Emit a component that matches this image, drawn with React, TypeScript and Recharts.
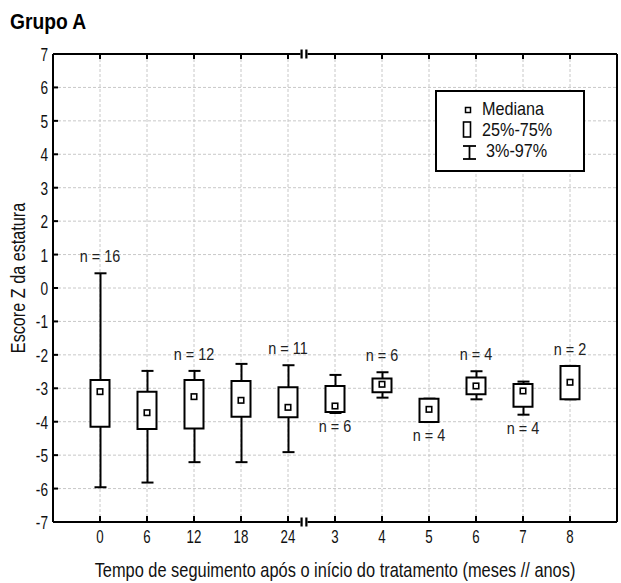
import React from 'react';
import {
  ComposedChart,
  Bar,
  Line,
  XAxis,
  YAxis,
  CartesianGrid,
  ReferenceDot,
  Label,
} from 'recharts';

const FONT = "'Liberation Sans', Arial, sans-serif";

// months (0-24) then years (3-8)
const categories = ['0', '6', '12', '18', '24', '3', '4', '5', '6', '7', '8'];
const whiskerLow = [-5.96, -5.82, -5.21, -5.21, -4.91, -3.74, -3.28, -4.01, -3.33, -3.79, -3.33];
const boxLow = [-4.15, -4.22, -4.2, -3.85, -3.87, -3.71, -3.12, -4.01, -3.18, -3.55, -3.33];
const medians = [-3.1, -3.73, -3.25, -3.36, -3.57, -3.53, -2.88, -3.63, -2.93, -3.08, -2.82];
const boxHigh = [-2.75, -3.1, -2.75, -2.78, -2.97, -2.93, -2.71, -3.31, -2.68, -2.87, -2.33];
const whiskerHigh = [0.44, -2.48, -2.48, -2.27, -2.31, -2.6, -2.52, -3.31, -2.49, -2.8, -2.33];
const nLabels = ['n = 16', '', 'n = 12', '', 'n = 11', 'n = 6', 'n = 6', 'n = 4', 'n = 4', 'n = 4', 'n = 2'];
const nPlacement = ['above', '', 'above', '', 'above', 'below', 'above', 'below', 'above', 'below', 'above'];
const yTicks = [-7, -6, -5, -4, -3, -2, -1, 0, 1, 2, 3, 4, 5, 6, 7];

const data = categories.map((label, i) => ({
  id: i,
  label,
  low: whiskerLow[i],
  q1: boxLow[i],
  median: medians[i],
  q3: boxHigh[i],
  high: whiskerHigh[i],
}));

const catPadding = { left: 23.5, right: 23.5 };

// condensed-looking text: regular font squeezed horizontally
const NText = ({ x, y, size, sx = 0.82, anchor = 'start', weight = 'normal', rotate = 0, fill = '#111', children }: any) => (
  <g transform={`translate(${x} ${y}) rotate(${rotate}) scale(${sx} 1)`}>
    <text x={0} y={0} textAnchor={anchor} fontSize={size} fontWeight={weight} fontFamily={FONT} fill={fill}>
      {children}
    </text>
  </g>
);

const BottomTick = ({ x, y, payload }: any) => (
  <g>
    <line x1={x} y1={y} x2={x} y2={y - 6} stroke="#000" strokeWidth={2} />
    <NText x={x} y={y + 21} size={19} sx={0.7} anchor="middle">
      {categories[payload.value]}
    </NText>
  </g>
);

const TopTick = ({ x, y }: any) => (
  <line x1={x} y1={y} x2={x} y2={y + 5} stroke="#000" strokeWidth={2} />
);

const LeftTick = ({ x, y, payload }: any) => (
  <g>
    <line x1={x} y1={y} x2={x + 5} y2={y} stroke="#000" strokeWidth={2} />
    <NText x={x - 5} y={y + 7} size={19} sx={0.72} anchor="end">
      {payload.value}
    </NText>
  </g>
);

const RightTick = ({ x, y }: any) => (
  <line x1={x} y1={y} x2={x - 5} y2={y} stroke="#000" strokeWidth={2} />
);

const Whisker = ({ x, y, width, height }: any) => {
  const cx = x + width / 2;
  return (
    <g>
      <line x1={cx} y1={y} x2={cx} y2={y + height} stroke="#000" strokeWidth={2} />
      <line x1={x} y1={y} x2={x + width} y2={y} stroke="#000" strokeWidth={2} />
      <line x1={x} y1={y + height} x2={x + width} y2={y + height} stroke="#000" strokeWidth={2} />
    </g>
  );
};

const MedianDot = ({ cx, cy, index }: any) => (
  <rect key={`m${index}`} x={cx - 2.75} y={cy - 2.75} width={5.5} height={5.5} fill="#fff" stroke="#000" strokeWidth={1.6} />
);

const NLabel = ({ x, y, index }: any) => {
  const text = nLabels[index];
  if (!text) return null;
  const dy = nPlacement[index] === 'below' ? 19 : -11;
  return (
    <NText x={x} y={y + dy} size={16} sx={0.9} anchor="middle" fill="#222">
      {text}
    </NText>
  );
};

const AxisBreak = ({ cx, cy }: any) => (
  <g>
    <rect x={cx - 3.5} y={cy - 2} width={7} height={4} fill="#fff" />
    <rect x={cx - 3.5} y={cy - 4.5} width={2.2} height={9} fill="#000" />
    <rect x={cx + 1.3} y={cy - 4.5} width={2.2} height={9} fill="#000" />
  </g>
);

const XTitle = ({ viewBox }: any) => (
  <NText x={viewBox.x + viewBox.width / 2} y={viewBox.y + 55} size={20} sx={0.82} anchor="middle">
    Tempo de seguimento após o início do tratamento (meses // anos)
  </NText>
);

const YTitle = ({ viewBox }: any) => (
  <NText x={viewBox.x + 25} y={viewBox.y + viewBox.height / 2 - 10} size={20} sx={0.81} anchor="middle" rotate={-90}>
    Escore Z da estatura
  </NText>
);

export default function App() {
  return (
    <div style={{ position: 'absolute', left: 0, top: 0, width: 621, height: 583, background: '#fff' }}>
      <ComposedChart
        width={621}
        height={583}
        data={data}
        margin={{ top: 50, right: 0, bottom: 0, left: 0 }}
        style={{ position: 'absolute', left: 0, top: 0 }}
      >
        <CartesianGrid xAxisId="a" yAxisId="l" stroke="#c8c8c8" strokeDasharray="3 2" />
        <XAxis
          xAxisId="a"
          dataKey="id"
          type="category"
          padding={catPadding}
          height={61}
          tickSize={0}
          tickMargin={0}
          tickLine={false}
          axisLine={{ stroke: '#000', strokeWidth: 2 }}
          tick={BottomTick}
          interval={0}
        >
          <Label content={XTitle} />
        </XAxis>
        <XAxis xAxisId="b" dataKey="id" type="category" padding={catPadding} hide />
        <XAxis
          xAxisId="top"
          orientation="top"
          dataKey="id"
          type="category"
          padding={catPadding}
          height={4}
          tickSize={0}
          tickMargin={0}
          tickLine={false}
          axisLine={{ stroke: '#000', strokeWidth: 2 }}
          tick={TopTick}
          interval={0}
        />
        <XAxis xAxisId="num" type="number" domain={[-1, 11]} allowDataOverflow hide />
        <YAxis
          yAxisId="l"
          domain={[-7, 7]}
          ticks={yTicks}
          width={53}
          tickSize={0}
          tickMargin={0}
          tickLine={false}
          axisLine={{ stroke: '#000', strokeWidth: 2 }}
          tick={LeftTick}
          interval={0}
        >
          <Label content={YTitle} />
        </YAxis>
        <YAxis
          yAxisId="r"
          orientation="right"
          domain={[-7, 7]}
          ticks={yTicks}
          width={4}
          tickSize={0}
          tickMargin={0}
          tickLine={false}
          axisLine={{ stroke: '#000', strokeWidth: 2 }}
          tick={RightTick}
          interval={0}
        />
        <Bar
          xAxisId="a"
          yAxisId="l"
          dataKey={(d: any) => [d.low, d.high]}
          barSize={12}
          shape={Whisker}
          isAnimationActive={false}
        />
        <Bar
          xAxisId="b"
          yAxisId="l"
          dataKey={(d: any) => [d.q1, d.q3]}
          barSize={19}
          fill="#fff"
          stroke="#000"
          strokeWidth={2}
          isAnimationActive={false}
        />
        <Line
          xAxisId="a"
          yAxisId="l"
          dataKey="median"
          stroke="none"
          dot={MedianDot}
          activeDot={false}
          isAnimationActive={false}
        />
        <Line
          xAxisId="a"
          yAxisId="l"
          dataKey={(d: any) => (nPlacement[d.id] === 'below' ? d.low : d.high)}
          stroke="none"
          dot={false}
          activeDot={false}
          label={NLabel}
          isAnimationActive={false}
        />
        <ReferenceDot xAxisId="num" yAxisId="l" x={4.45} y={7} ifOverflow="visible" shape={AxisBreak} />
        <ReferenceDot xAxisId="num" yAxisId="l" x={4.45} y={-7} ifOverflow="visible" shape={AxisBreak} />
      </ComposedChart>
      <svg width={621} height={583} style={{ position: 'absolute', left: 0, top: 0, pointerEvents: 'none' }}>
        <NText x={10} y={29} size={22} sx={0.875} weight="bold" fill="#000">
          Grupo A
        </NText>
        <g transform="translate(435 90)">
          <rect x={1} y={1} width={148} height={80} fill="#fff" stroke="#000" strokeWidth={2} />
          <rect x={30.5} y={17.5} width={5} height={5} fill="#fff" stroke="#000" strokeWidth={1.5} />
          <NText x={47} y={25} size={18} sx={0.9}>Mediana</NText>
          <rect x={28.5} y={32} width={7} height={15} fill="#fff" stroke="#000" strokeWidth={1.6} />
          <NText x={47} y={46} size={18} sx={0.9}>25%-75%</NText>
          <line x1={34.5} y1={56} x2={34.5} y2={69} stroke="#000" strokeWidth={1.8} />
          <line x1={28} y1={56} x2={41} y2={56} stroke="#000" strokeWidth={1.8} />
          <line x1={28} y1={69} x2={41} y2={69} stroke="#000" strokeWidth={1.8} />
          <NText x={51} y={67} size={18} sx={0.9}>3%-97%</NText>
        </g>
      </svg>
    </div>
  );
}
